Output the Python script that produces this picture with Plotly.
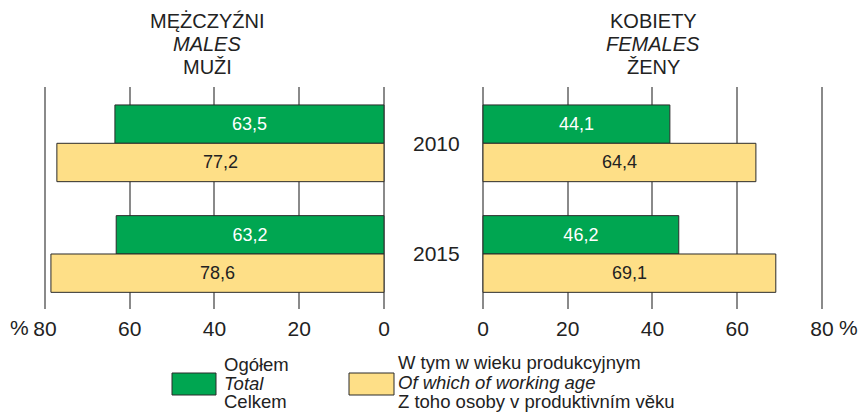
import plotly.graph_objects as go

years = ["2010", "2015"]
males_total = [63.5, 63.2]
males_working = [77.2, 78.6]
females_total = [44.1, 46.2]
females_working = [64.4, 69.1]
tick_vals = [0, 20, 40, 60, 80]
left_tick_text = ["0", "20", "40", "60", "80"]
right_tick_text = ["0", "20", "40", "60", "80"]
left_title = ["MĘŻCZYŹNI", "<i>MALES</i>", "MUŽI"]
right_title = ["KOBIETY", "<i>FEMALES</i>", "ŽENY"]
legend_total = ["Ogółem", "<i>Total</i>", "Celkem"]
legend_working = ["W tym w wieku produkcyjnym", "<i>Of which of working age</i>",
                  "Z toho osoby v produktivním věku"]

GREEN = "#00A651"
YELLOW = "#FEDF87"
EDGE = "#2b2b2b"
TXT = "#222222"
FONT = "Liberation Sans, Arial, sans-serif"
W, H = 859, 412

def px(x):
    return x / W

def py(y):
    return 1 - y / H

fig = go.Figure()

def add_pair(total, working, xa, ya):
    fig.add_trace(go.Bar(
        y=years, x=total, orientation="h", xaxis=xa, yaxis=ya,
        marker=dict(color=GREEN, line=dict(color=EDGE, width=1)),
        texttemplate="%{x:.1f}", textposition="inside", insidetextanchor="middle",
        textfont=dict(color="white", size=18, family=FONT), showlegend=False,
        textangle=0,
    ))
    fig.add_trace(go.Bar(
        y=years, x=working, orientation="h", xaxis=xa, yaxis=ya,
        marker=dict(color=YELLOW, line=dict(color=EDGE, width=1)),
        texttemplate="%{x:.1f}", textposition="inside", insidetextanchor="middle",
        textfont=dict(color=TXT, size=18, family=FONT), showlegend=False,
        textangle=0,
    ))

add_pair(males_total, males_working, "x", "y")
add_pair(females_total, females_working, "x2", "y2")

pad = 0.6
ppu = (384 - 45) / 80.0
ydom = [py(309), py(87.3)]
common_x = dict(
    type="linear",
    showgrid=True, gridcolor="#8a8a8a", gridwidth=2, zeroline=False,
    showline=False, ticks="", tickvals=tick_vals, automargin=False,
    ticklabelstandoff=5,
    tickfont=dict(size=21, family=FONT, color=TXT), fixedrange=True,
)
common_y = dict(type="category", categoryorder="array", categoryarray=years,
                showticklabels=False, showgrid=False, zeroline=False,
                showline=False, ticks="", automargin=False,
                range=[1.497, -0.506], domain=ydom, fixedrange=True)
fig.update_layout(
    template="none",
    xaxis=dict(domain=[px(45 - pad * ppu), px(384 + pad * ppu)], range=[80 + pad, -pad],
               ticktext=left_tick_text, anchor="y", **common_x),
    xaxis2=dict(domain=[px(483 - pad * ppu), px(822 + pad * ppu)], range=[-pad, 80 + pad],
                ticktext=right_tick_text, anchor="y2", **common_x),
    yaxis=dict(anchor="x", **common_y),
    yaxis2=dict(anchor="x2", **common_y),
    barmode="group", bargap=0.307, bargroupgap=0,
    separators=", ",
    width=W, height=H, margin=dict(l=0, r=0, t=0, b=0, pad=0),
    autosize=False,
    plot_bgcolor="white", paper_bgcolor="white",
    font=dict(family=FONT, color=TXT),
    showlegend=False,
)

ann = []

def text_ann(x, y, text, size, xanchor="center"):
    ann.append(dict(x=px(x), y=py(y), xref="paper", yref="paper", showarrow=False,
                    xanchor=xanchor, yanchor="middle", text=text,
                    font=dict(size=size, family=FONT, color=TXT)))

# titles
for i, line in enumerate(left_title):
    text_ann(207, [21, 44, 67][i], line, 20)
for i, line in enumerate(right_title):
    text_ann(653, [21, 44, 67][i], line, 20)

# year labels
for i, yr in enumerate(years):
    ann.append(dict(x=px(436), y=i, xref="paper", yref="y2", showarrow=False,
                    xanchor="center", yanchor="middle",
                    text=yr, font=dict(size=21, family=FONT, color=TXT)))

# percent signs
text_ann(31, 327, "%", 21, "right")
text_ann(837, 327, "%", 21, "left")

# legend texts
for i, line in enumerate(legend_total):
    text_ann(222, [364, 383, 401][i], line, 18.5, "left")
for i, line in enumerate(legend_working):
    text_ann(396, [362, 382, 401][i], line, 18.5, "left")
fig.update_layout(annotations=ann)

# legend swatches
fig.add_shape(type="rect", xref="paper", yref="paper", x0=px(172), x1=px(216),
              y0=py(395), y1=py(373), fillcolor=GREEN, line=dict(color=EDGE, width=1))
fig.add_shape(type="rect", xref="paper", yref="paper", x0=px(349), x1=px(394),
              y0=py(395), y1=py(373), fillcolor=YELLOW, line=dict(color=EDGE, width=1))

fig.write_html(
    "out.html",
    config={"displayModeBar": False},
    post_script="document.body.style.margin='0';document.body.style.overflow='hidden';",
)
